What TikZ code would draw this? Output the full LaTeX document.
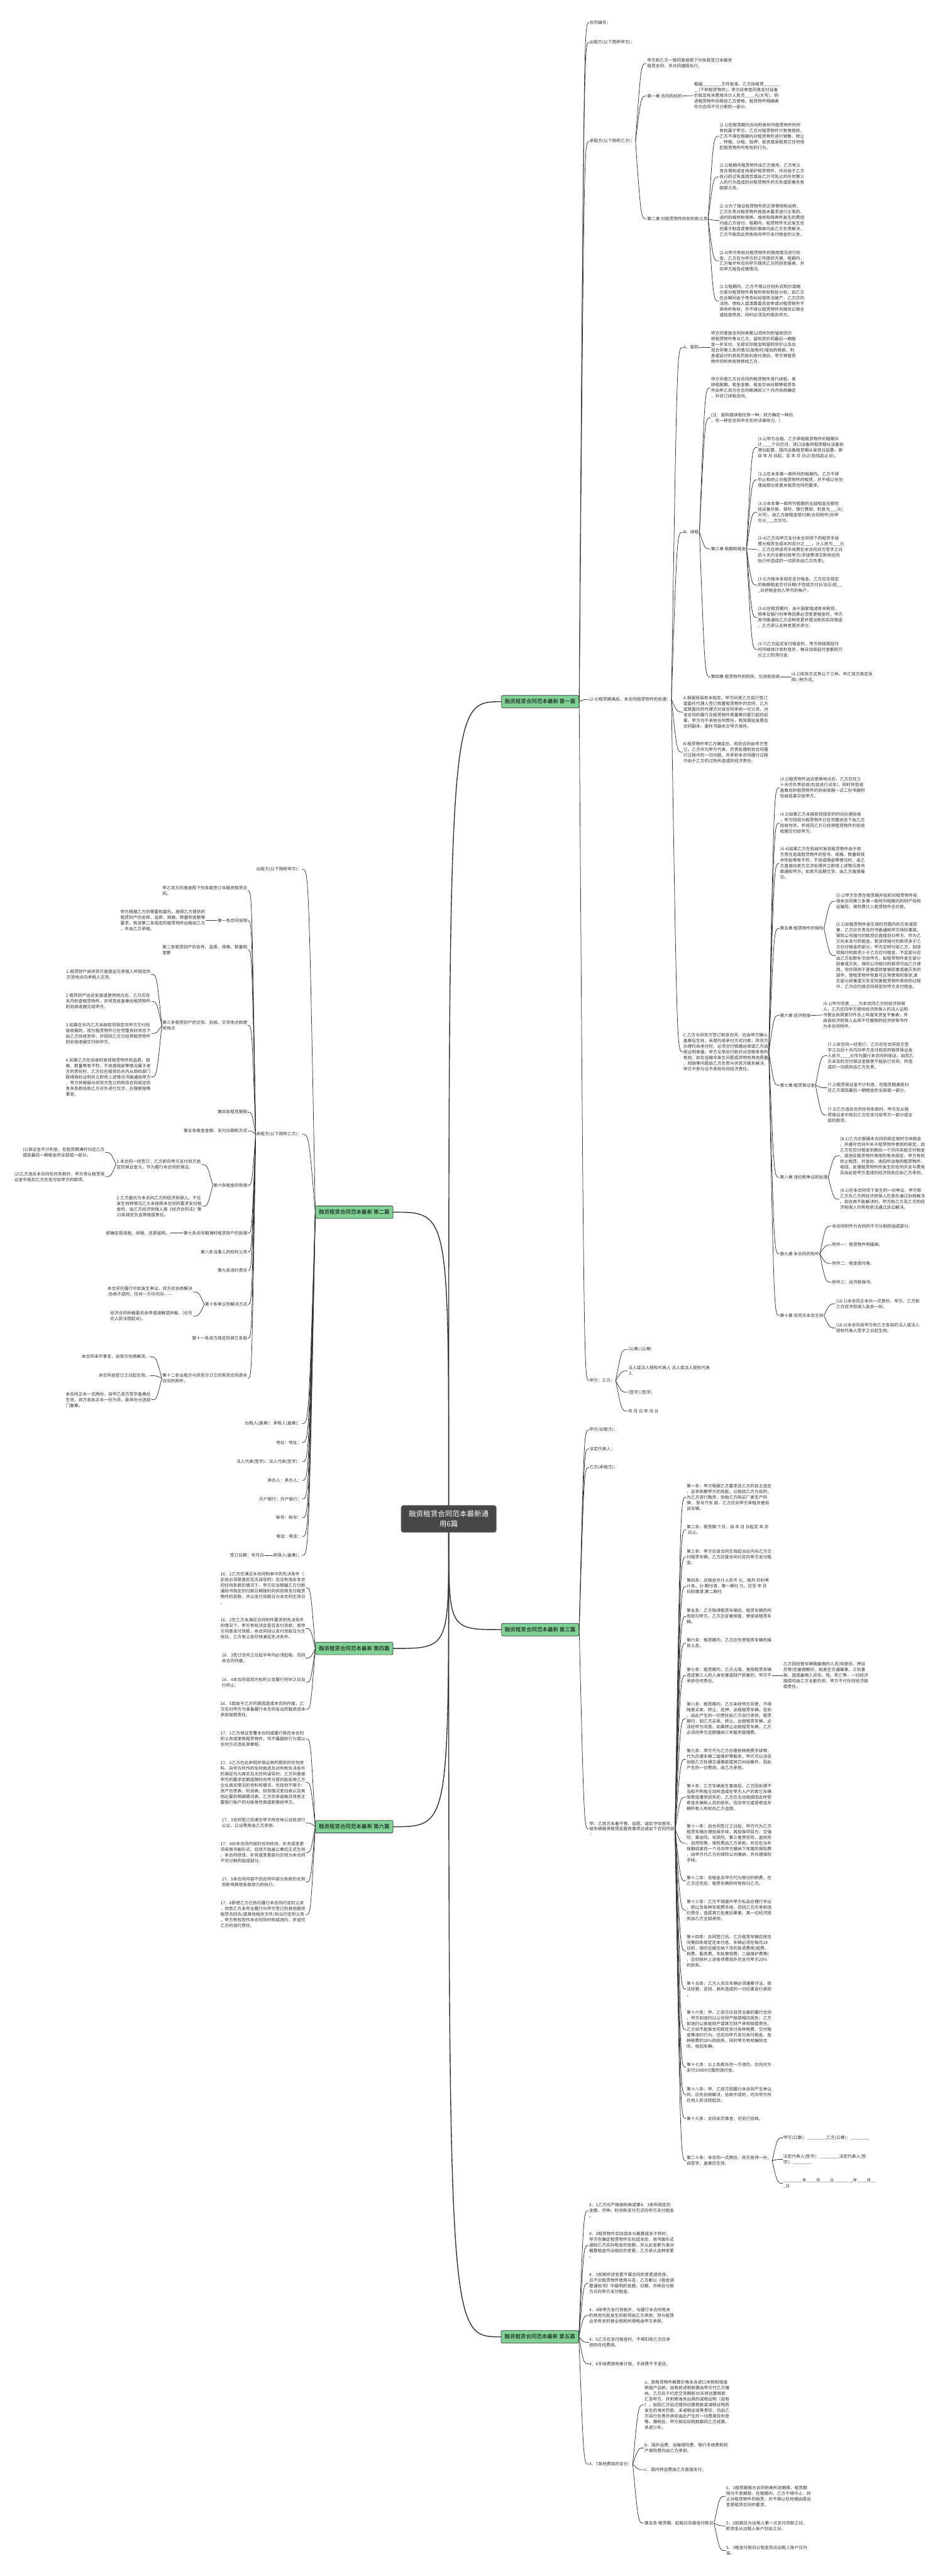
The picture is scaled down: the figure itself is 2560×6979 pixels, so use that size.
\documentclass[tikz,border=0pt]{standalone}
\usepackage{fontspec}
\setmainfont{Noto Sans CJK SC}
\usetikzlibrary{calc}
\definecolor{tx}{HTML}{2F2F2F}
\definecolor{ln}{HTML}{333333}
\definecolor{gfill}{HTML}{80D195}
\definecolor{rfill}{HTML}{474747}
\newcommand\ufour{\_\_\_\_}
\newcommand\ueight{\_\_\_\_\_\_\_\_}
\newcommand\rlink[2]{\draw[cn] (#1.east) .. controls ($(#2.west-|#1.east)!0.5!(#2.west)$) .. (#2.west);}
\newcommand\llink[2]{\draw[cn] (#1.west) .. controls ($(#2.east-|#1.west)!0.5!(#2.east)$) .. (#2.east);}
\begin{document}
\begin{tikzpicture}[x=1pt,y=-1pt,
  tx/.style={font=\fontsize{11.5}{15.3}\selectfont, text=tx, align=left, inner sep=1.5pt},
  R/.style={tx,anchor=west}, L/.style={tx,anchor=east},
  cn/.style={draw=ln, line width=1.3pt, line cap=round},
  rc/.style={draw=ln, line width=2.4pt, line cap=round},
  lvl/.style={draw=ln, line width=1.2pt, fill=gfill, rounded corners=4pt, minimum width=210pt, minimum height=34pt, inner sep=0pt, font=\fontsize{14.5}{17}\selectfont, text=black}]
\fill[white] (0,0) rectangle (2560,6979);
\useasboundingbox (0,0) rectangle (2560,6979);
% root and level 1
\node[draw=rfill!70!white, fill=rfill, rounded corners=6pt, text=white, font=\fontsize{19.7}{26.4}\selectfont, align=center, minimum width=258pt, minimum height=73pt, inner sep=0pt, line width=1.2pt] (root) at (1216,4115) {融资租赁合同范本最新通\\用6篇};
\node[lvl] (b1) at (1464,1901) {融资租赁合同范本最新 第一篇};
\node[lvl] (b2) at (960,3284) {融资租赁合同范本最新 第二篇};
\node[lvl] (b3) at (1464,4415) {融资租赁合同范本最新 第三篇};
\node[lvl] (b4) at (960,4466) {融资租赁合同范本最新 第四篇};
\node[lvl] (b6) at (960,4949) {融资租赁合同范本最新 第六篇};
\node[lvl] (b5) at (1463,6331) {融资租赁合同范本最新 第五篇};
\draw[rc] (root.north) .. controls (root.north |- b1.west) .. (b1.west);
\draw[rc] (root.north) .. controls (root.north |- b2.east) .. (b2.east);
\draw[rc] (root.south) .. controls (root.south |- b3.west) .. (b3.west);
\draw[rc] (root.south) .. controls (root.south |- b4.east) .. (b4.east);
\draw[rc] (root.south) .. controls (root.south |- b6.east) .. (b6.east);
\draw[rc] (root.south) .. controls (root.south |- b5.west) .. (b5.west);

% ===== 第一篇 =====
\node[R] (a1) at (1596,62) {合同编号：};
\node[R] (a2) at (1596,115) {出租方(以下简称甲方)：};
\node[R] (a3) at (1596,383) {承租方(以下简称乙方)：};
\node[R] (a31) at (1752,172) {甲方和乙方一致同意按照下列条款签订本融资\\租赁合同，并共同遵照执行。};
\node[R] (a32) at (1752,260) {第一章 合同的标的};
\node[R] (a321) at (1879,259) {根据\ueight 文件批准，乙方拟租赁\_\_\_\_\_\_\_\\\_\_(下称租赁物件)，甲方经审查同意支付设备\\价款及有关费用共计人民币\ufour 元(大写)，购\\进租赁物件后租给乙方使用，租赁物件明细表\\作为合同不可分割的一部分。};
\node[R] (a33) at (1752,593) {第二章 对租赁物件的权利和义务};
\node[R] (a331) at (1948,369) {(2-1)在租赁期内合同附表所列租赁物件的所\\有权属于甲方，乙方对租赁物件只有使用权。\\乙方不得在租期内对租赁物件进行销售、转让\\、转租、分租、抵押、投资或采取其它任何侵\\犯租赁物件所有权的行为。};
\node[R] (a332) at (1948,479) {(2-2)租期内租赁物件由乙方使用，乙方有义\\务合理和适宜地保护租赁物件，并对由于乙方\\自己的过失或疏忽或由乙方可防止的任何第三\\人的行为造成的对租赁物件的灭失或损害负有\\赔偿义务。};
\node[R] (a333) at (1948,597) {(2-3)为了保证租赁物件的正常使用和运转，\\乙方负责对租赁物件按技术要求进行正常的、\\适时的维修和保养。维修和保养所发生的费用\\均由乙方自付。租期内，租赁物件无论发生任\\何属于制造或使用的事故均由乙方负责解决，\\乙方不能因此而免除向甲方支付租金的义务。};
\node[R] (a334) at (1948,707) {(2-4)甲方有权对租赁物件的使用情况进行检\\查，乙方应为甲方的工作提供方便。租期内，\\乙方每半年应向甲方提供乙方的财务报表，并\\向甲方报告经营情况。};
\node[R] (a335) at (1948,816) {(2-5)租期内，乙方不得以任何形式明示或暗\\示其对租赁物件具有所有权和处分权，如乙方\\在此期间由于债务纠纷或依法破产，乙方应向\\法院、债权人或清算委员会申请对租赁物件不\\具有所有权，亦不得以租赁物件充做诉讼保全\\或抵偿债务，同时必须及时报告甲方。};
\node[R] (a4) at (1596,1895) {(2-6)租赁期满后，本合同租赁物件的处理：};
\node[R] (a41) at (1850,941) {A、留购};
\node[R] (a411) at (1925,941) {甲方同意按合同附表第12项所列的留购货价\\将租赁物件售与乙方。留购货价同最后一期租\\金一并支付。全部实际租金和留购货价以及出\\现合同第三条的情况(如有时)增加的税款、利\\息或延付利息和罚款利息付清后，甲方将租赁\\物件的所有权转移给乙方。};
\node[R] (a42) at (1850,1442) {B、续租};
\node[R] (a421) at (1925,1051) {甲方同意乙方对合同的租赁物件进行续租，其\\续租租期、租金金额、租金交纳日期等租赁条\\件由甲乙双方在合同期满前三个月内协商确定\\，并另订续租合同。};
\node[R] (a422) at (1925,1132) {(注：留购或续租任择一种，双方确定一种后\\，另一种在合同中无任何法律效力。)};
\node[R] (a423) at (1925,1487) {第三章 租期和租金};
\node[R] (a4231) at (2052,1212) {(3-1)甲方出租、乙方承租租赁物件的租期共\\计\ufour 个日历月，进口设备的租赁期从设备到\\港日起算，国内设备租赁期从发货日起算，即\\自 年 月 日起，至 年 月 日止(包括起止日)。};
\node[R] (a4232) at (2052,1300) {(3-2)在本条第一款所列的租期内，乙方不得\\中止和终止对租赁物件的租赁，并不得以任何\\理由提出变更本租赁合同的要求。};
\node[R] (a4233) at (2052,1388) {(3-3)本条第一款所列租期的全部租金总额包\\括设备价款、保险、银行费用、利息为\_\_\_元(\\大写)，由乙方按租金偿付表(合同附件)向甲\\方分\_\_\_次交付。};
\node[R] (a4234) at (2052,1489) {(3-4)乙方向甲方支付本合同项下的租赁手续\\费为租赁总成本的百分之\_\_\_，计人民币\_\_\_元\\，乙方应将该项手续费在本合同双方签字之日\\后十天内全额付给甲方(手续费滞交影响合同\\执行所造成的一切损失由乙方负责)。};
\node[R] (a4235) at (2052,1585) {(3-5)为按本条规定支付租金，乙方应在规定\\的每期租金交付日期(不包括交付日当日)前\_\_\\\_日将租金划入甲方的帐户。};
\node[R] (a4236) at (2052,1673) {(3-6)在租赁期内，由于国家增减有关税项、\\税率及银行利率等因素必须变更租金时，甲方\\用书面通知乙方这种变更并提出新的实际租金\\，乙方承认这种变更并承付。};
\node[R] (a4237) at (2052,1760) {(3-7)乙方延迟支付租金时，甲方除按照延付\\时间继续计收利息外，每日加收延付金额的万\\分之三的滞付金。};
\node[R] (a424) at (1925,1834) {第四章 租赁物件的购货、交货和验收};
\node[R] (a4241) at (2143,1834) {(4-1)购货方式有以下三种，甲乙双方商定采\\用( )种方式。};
\node[R] (a43) at (1850,1929) {A.根据贸易有关规定，甲方同意乙方自行签订\\或委托代理人签订购置租赁物件的合同，乙方\\或其委托的代理方对该合同承担一切义务。对\\该合同的履行及租赁物件质量等问题引起的后\\果，甲方均不承担任何责任，购货原始发票及\\合同副本、委托书副本交甲方保存。};
\node[R] (a44) at (1850,2038) {B.租赁物件甲乙方确定后，购货合同由甲方签\\订。乙方作为甲方代表，负责处理购货合同履\\行过程中的一切问题，并承担本合同履行过程\\中由于乙方的过失所造成的经济责任。};
\node[R] (a45) at (1850,2850) {C.乙方与供货方签订购货合同，应由甲方确认\\盖章后生效，采用托收承付方式付款，供货方\\办理托收承付时，必须交付铁路运单或乙方自\\提证明单据。甲方见单后付款并对货物享有所\\有权。如在运输中发生问题或货物有其他质量\\、短缺等问题由乙方负责与供货方联系解决，\\甲方不参与也不承担任何经济责任。};
\node[R] (a451) at (2112,2134) {(4-2)租赁物件运达使用地点后，乙方应在三\\十天内负责验收(包括进行试车)，同时将签收\\盖章后的租赁物件的验收收据一式二份书面附\\验收结果交给甲方。};
\node[R] (a452) at (2112,2230) {(4-3)如果乙方未按前项规定的时间办理验收\\，甲方则视为租赁物件已在完整状态下由乙方\\验收完毕，并视同乙方已经将租赁物件的验收\\收据交付给甲方。};
\node[R] (a453) at (2112,2339) {(4-4)如果乙方在验收时发现租赁物件由于卖\\方责任造成租赁物件的型号、规格、数量和技\\术性能等有不符、不良或瑕疵等情况时，由乙\\方直接向卖方交涉处理并立即将上述情况用书\\面通知甲方。如卖方延期交货，由乙方直接催\\交。};
\node[R] (a454) at (2112,2515) {第五章 租赁物件的保险};
\node[R] (a4541) at (2264,2442) {(5-1)甲方负责在租赁期开始前对租赁物件投\\保本合同第三条第一款所列租期内的财产险和\\运输险，保险费计入租赁物件总价款。};
\node[R] (a4542) at (2264,2589) {(5-2)如租赁物件发生保险范围内的灭失或损\\害，乙方应负责及时书面通知甲方保险事故。\\保险公司赔付的款项应直接划归甲方，作为乙\\方尚未支付的租金。若该项赔付的款项多于乙\\方应付租金的部分，甲方应转付给乙方，如该\\项赔付的款项少于乙方应付租金，不足部分应\\由乙方如数补交给甲方。如租赁物件发生部分\\损害或灭失，保险公司赔付的款项可由乙方使\\用，但仅限用于更换或修复被损害或被灭失的\\部件，使租赁物件恢复可正常使用的原状;发\\生部分损害或灭失至恢复租赁物件原状的过程\\中，乙方应仍按合同规定向甲方支付租金。};
\node[R] (a455) at (2112,2751) {第六章 经济担保};
\node[R] (a4551) at (2229,2750) {(6-1)甲方同意\ufour 为本合同乙方的经济担保\\人。乙方应向甲方提供经济担保人的法人证明\\书营业执照复印件及上年度末资金平衡表，并\\由该经济担保人出具不可撤销的经济担保书作\\为本合同附件。};
\node[R] (a456) at (2112,2940) {第七章 租赁保证金};
\node[R] (a4561) at (2241,2860) {(7-1)本合同一经签订，乙方应在合同双方签\\字之日后十天内向甲方支付规定的租赁保证金\\人民币\ufour 元作为履行本合同的保证。如因乙\\方未及时交付保证金致使不能执行合同，所造\\成的一切损失由乙方负责。};
\node[R] (a4562) at (2241,2947) {(7-2)租赁保证金不计利息，在租赁期满是归\\还乙方或抵最后一期租金的全部或一部分。};
\node[R] (a4563) at (2241,3021) {(7-3)乙方违反合同任何条款时，甲方应从租\\赁保证金中抵扣乙方应支付给甲方一部分或全\\部的款项。};
\node[R] (a457) at (2112,3190) {第八章 违约和争议的处理};
\node[R] (a4571) at (2275,3131) {(8-1)乙方应根据本合同的规定按时交纳租金\\，并遵守合同中关于租赁物件使用的规定。如\\乙方在应付租金到期后一个月内未能交付租金\\，或违反租赁物件使用的有关规定，甲方有权\\终止租赁，并查封、收回所出租的租赁物件。\\收回、处理租赁物件所发生的任何开支与费用\\及由此给甲方造成的经济损失应由乙方承担。};
\node[R] (a4572) at (2275,3249) {(8-2)在本合同项下发生的一切争议，甲方和\\乙方及乙方的经济担保人应首先通过协商解决\\。如协商不能解决时，甲方和乙方及乙方的经\\济担保人均有权依法通过诉讼解决。};
\node[R] (a458) at (2112,3397) {第九章 本合同的附件};
\node[R] (a4581) at (2253,3322) {本合同附件为合同的不可分割的组成部分。};
\node[R] (a4582) at (2253,3373) {附件一：租赁物件明细表;};
\node[R] (a4583) at (2253,3423) {附件二：租金偿付表;};
\node[R] (a4584) at (2253,3474) {附件三：经济担保书。};
\node[R] (a459) at (2112,3564) {第十章 合同文本及生效};
\node[R] (a4591) at (2264,3532) {(10-1)本合同正本共一式叁份，甲方、乙方和\\乙方经济担保人各执一份。};
\node[R] (a4592) at (2264,3598) {(10-2)本合同自甲方和乙方各自的法人或法人\\授权代表人签字之日起生效。};
\node[R] (a5) at (1596,3740) {甲方：乙方：};
\node[R] (a51) at (1701,3656) {(公章) (公章)};
\node[R] (a52) at (1701,3714) {法人或法人授权代表人 法人或法人授权代表\\人};
\node[R] (a53) at (1701,3772) {(签字) (签字)};
\node[R] (a54) at (1701,3823) {年 月 日 年 月 日};

\foreach \c in {a1,a2,a3,a4,a5}{\rlink{b1}{\c}}
\foreach \c in {a31,a32,a33}{\rlink{a3}{\c}}
\rlink{a32}{a321}
\foreach \c in {a331,a332,a333,a334,a335}{\rlink{a33}{\c}}
\foreach \c in {a41,a42,a43,a44,a45}{\rlink{a4}{\c}}
\rlink{a41}{a411}
\foreach \c in {a421,a422,a423,a424}{\rlink{a42}{\c}}
\foreach \c in {a4231,a4232,a4233,a4234,a4235,a4236,a4237}{\rlink{a423}{\c}}
\rlink{a424}{a4241}
\foreach \c in {a451,a452,a453,a454,a455,a456,a457,a458,a459}{\rlink{a45}{\c}}
\foreach \c in {a4541,a4542}{\rlink{a454}{\c}}
\rlink{a455}{a4551}
\foreach \c in {a4561,a4562,a4563}{\rlink{a456}{\c}}
\foreach \c in {a4571,a4572}{\rlink{a457}{\c}}
\foreach \c in {a4581,a4582,a4583,a4584}{\rlink{a458}{\c}}
\foreach \c in {a4591,a4592}{\rlink{a459}{\c}}
\foreach \c in {a51,a52,a53,a54}{\rlink{a5}{\c}}

% ===== 第三篇 =====
\node[R] (c1) at (1596,3874) {甲方(出租方)：};
\node[R] (c2) at (1596,3925) {法定代表人：};
\node[R] (c3) at (1596,3976) {乙方(承租方)：};
\node[R] (c4) at (1596,4955) {甲、乙双方本着平等、自愿、诚实守信原则，\\就车辆融资租赁及服务事项达成如下合同内容\\：};
\node[R] (c41) at (1859,4056) {第一条：甲方根据乙方要求及乙方的自主选定\\，且非依赖甲方的技能，以租给乙方为目的，\\为乙方进行融资，协助乙方购买厂家生产的\\牌， 型号汽车 部，乙方应向甲方承租并使用\\该车辆。};
\node[R] (c42) at (1859,4144) {第二条：租赁期 个月，自 年 月 日起至 年 月\\\hspace*{3pt}日止。};
\node[R] (c43) at (1859,4218) {第三条：甲方应自合同生效起当日内向乙方交\\付租赁车辆，乙方应按合同约定向甲方支付租\\金。};
\node[R] (c44) at (1859,4298) {第四条：总租金共计人民币 元，按月 的利率\\计息。分 期付清，第一期付 元，应至 年 月\\日前缴清;第二期付};
\node[R] (c45) at (1859,4379) {第五条：乙方取得租赁车辆后，租赁车辆的所\\有权归甲方，乙方应妥善保管、使用该租赁车\\辆。};
\node[R] (c46) at (1859,4451) {第六条：租赁期内，乙方应负责租赁车辆的维\\修义务。};
\node[R] (c47) at (1859,4539) {第七条：租赁期内，乙方占用、使用租赁车辆\\造成第三人的人身伤害或财产损害的，甲方不\\承担任何责任。};
\node[R] (c471) at (2121,4539) {乙方因经营车辆需雇佣的人员(驾驶员、押运\\员等)在雇佣期间，如发生交通肇事，工伤事\\故，造成雇佣人员伤、残、死亡等，一切经济\\赔偿均由乙方全额负担，甲方不付任何经济赔\\偿责任。};
\node[R] (c48) at (1859,4656) {第八条：租赁期内，乙方未经甲方同意，不得\\随意买卖、转让、抵押、出租租赁车辆，否则\\，由此产生的一切责任由乙方自行承担。租赁\\期内，如乙方买卖、转让、出租租赁车辆，必\\须经甲方同意，如果转让出租租赁车辆，乙方\\必须向甲方足额缴纳三年服务管理费。};
\node[R] (c49) at (1859,4766) {第九条：甲方代为乙方办理各种税费手续等，\\代为办理车辆二级维护等服务，甲方可以派员\\协助乙方处理交通事故或其它纠纷案件，因此\\产生的一切费用，由乙方承担。};
\node[R] (c410) at (1859,4869) {第十条：乙方车辆发生事故后，乙方因处理不\\当和不积极主动所造成在甲方入户的其它车辆\\受牵连遭受损失的，乙方应主动赔偿因此所受\\牵连车辆和人员的损失，否则甲方或受牵连车\\辆所有人有权向乙方追偿。};
\node[R] (c411) at (1859,4994) {第十一条：自合同签订之日起，甲方代为乙方\\租赁车辆办理投保手续，其投保项目为：交强\\险、乘坐险、车损险、第三者责任险、盗抢险\\、自然险等，保险费由乙方承担，并应在当年\\保期结束前一个月向甲方缴纳下年度的保险费\\，由甲方代乙方向保险公司缴纳，并办理保险\\手续。};
\node[R] (c412) at (1859,5096) {第十二条：总租金及甲方代为垫付的税费，在\\乙方还完后，租赁车辆的所有权归乙方。};
\node[R] (c413) at (1859,5175) {第十三条：乙方不得避开甲方私自办理行车证\\、照以及各种车规费手续，否则乙方应承担违\\约责任，造成其它危害后果者，其一切经济损\\失由乙方全部承担。};
\node[R] (c414) at (1859,5286) {第十四条：合同签订后，乙方租赁车辆应按合\\同第四条规定还本付息，车辆必须在每月28\\日前，按时足额交纳下月的各项费用(规费、\\税费、服务费、车船使用费、二级维护费等)\\，否则除补上述各项费用外另支付甲方20\%\\的损失。};
\node[R] (c415) at (1859,5389) {第十五条：乙方人员及车辆必须遵章守法，依\\法经营，否则，其所造成的一切后果自行承担\\。};
\node[R] (c416) at (1859,5499) {第十六条：甲、乙双方应自觉全面的履行合同\\，甲方如违约以公司财产赔偿相应损失；乙方\\如违约以家庭财产或其它财产承担赔偿责任。\\乙方如不能按合同规定支付各种税费、交付租\\金等违约行为，还应向甲方支付未付租金、各\\种税费的20\%的损失，同时甲方有权解除合\\同，收回车辆。};
\node[R] (c417) at (1859,5601) {第十七条：以上条款任何一方违约，应向对方\\支付10000元整的违约金。};
\node[R] (c418) at (1859,5675) {第十八条：甲、乙双方因履行本合同产生争议\\的，应先协商解决，协商不成的，可向甲方所\\在地人民法院起诉。};
\node[R] (c419) at (1859,5740) {第十九条：合同未尽事宜，可另行协商。};
\node[R] (c420) at (1859,5854) {第二十条：本合同一式两份，双方各持一份，\\自签字、盖章后生效。};
\node[R] (c4201) at (2121,5792) {甲方(公章)：\ueight 乙方(公章)：\ueight};
\node[R] (c4202) at (2121,5850) {法定代表人(签字)：\ueight 法定代表人(签\\字)：\ueight};
\node[R] (c4203) at (2121,5915) {\ueight 年\ufour 月\ufour 日\ueight 年\ufour 月\_\_\\\_日};

\foreach \c in {c1,c2,c3,c4}{\rlink{b3}{\c}}
\foreach \c in {c41,c42,c43,c44,c45,c46,c47,c48,c49,c410,c411,c412,c413,c414,c415,c416,c417,c418,c419,c420}{\rlink{c4}{\c}}
\rlink{c47}{c471}
\foreach \c in {c4201,c4202,c4203}{\rlink{c420}{\c}}

% ===== 第五篇 =====
\node[R] (e1) at (1595,5989) {4．1乙方应严格按附表或第4．3条所规定的\\金额、币种、时间和支付方式向甲方支付租金\\。};
\node[R] (e2) at (1595,6083) {4．2租赁物件实际成本与概算成本不符时，\\甲方在确定租赁物件实际成本后，用书面形式\\通知乙方实际租金的金额，并以此金额为准对\\概算租金作出相应的变更，乙方承认这种变更\\。};
\node[R] (e3) at (1595,6185) {4．3前款所述变更不属合同的变更或修改，\\且不论租赁物件使用与否，乙方都以《租金调\\整通知书》中载明的金额、日期、币种及付款\\方式向甲方支付租金。};
\node[R] (e4) at (1595,6273) {4．4除甲方支付货款外，与履行本合同有关\\的其他可能发生的款项由乙方承担，但与租赁\\业务有关的营业税和所得税由甲方承担。};
\node[R] (e5) at (1595,6346) {4．5乙方在支付租金时，不得扣除乙方应承\\担的任何费用。};
\node[R] (e6) at (1595,6404) {4．6手续费按附表计收，手续费不予退还。};
\node[R] (e7) at (1595,6676) {4．7其他费用的支付：};
\node[R] (e71) at (1745,6515) {a．若租赁物件概算价格未含进口关税和增值\\税或产品税，如有前述税款需由甲方代乙方缴\\纳，乙方应于约定交货期前30天将估算税款\\汇至甲方，并附寄海关出具的减税证明（如有\\），如因乙方延迟提供估算税款或减税证明而\\发生的海关罚款、未减税征收等责任，均由乙\\方自行负责并承担由此产生的一切费用及利息\\等。缴税后，甲方按实际税款额同乙方结算，\\多退少补。};
\node[R] (e72) at (1745,6632) {b．国外运费、运输保险费、银行手续费和财\\产保险费均由乙方承担。};
\node[R] (e73) at (1745,6691) {c．国内转运费由乙方直接支付。};
\node[R] (e74) at (1745,6836) {第五条 租赁期、起租日及租金付款日};
\node[R] (e741) at (1966,6763) {5．1租赁期限为合同附表所述期限，租赁期\\限为不变期限，在租期内，乙方不得中止、终\\止对租赁物件的租赁，并不得以任何理由提出\\变更租赁合同的要求。};
\node[R] (e742) at (1966,6843) {5．2起租日为出租人第一次支付贷款之日，\\即资金从出租人账户划出之日。};
\node[R] (e743) at (1966,6910) {5．3租金付款日以租金到达出租人账户日为\\准。};
\foreach \c in {e1,e2,e3,e4,e5,e6,e7}{\rlink{b5}{\c}}
\foreach \c in {e71,e72,e73,e74}{\rlink{e7}{\c}}
\foreach \c in {e741,e742,e743}{\rlink{e74}{\c}}

% ===== 第二篇 =====
\node[L] (d1) at (819,2355) {出租方(以下简称甲方)：};
\node[L] (d2) at (819,3073) {承租方(以下简称乙方)：};
\node[L] (d21) at (672,2413) {甲乙双方同意按照下列条款签订本融资租赁合\\同。};
\node[L] (d22) at (672,2494) {第一条合同说明};
\node[L] (d221) at (558,2494) {甲方根据乙方的需要和委托，按照乙方提供的\\租赁财产的名称、品质、规格、数量和金额等\\要求，购进第二条规定的租赁物件出租给乙方\\，并由乙方承租。};
\node[L] (d23) at (672,2574) {第二条租赁财产的名称、品质、规格、数量和\\金额};
\node[L] (d24) at (672,2778) {第三条租赁财产的交货、验收、交货地点和使\\用地点};
\node[L] (d241) at (410,2640) {1.租赁财产由供货方直接运交承租人所指定的\\交货地点向承租人交货。};
\node[L] (d242) at (410,2713) {2.租赁财产运达安装或使用地点后，乙方应在\\天内检查租赁物件，并将签收盖章后租赁物件\\的验收收据交给甲方。};
\node[L] (d243) at (410,2800) {3.如果在天内乙方未按前项规定向甲方交付验\\收收据的，视为租赁物件已在完整良好状态下\\由乙方验收完毕，并视同乙方已经将租赁物件\\的验收收据交付给甲方。};
\node[L] (d244) at (410,2918) {4.如果乙方在验收时发现租赁物件的品质、规\\格、数量等有不符，不良或瑕疵等情况属于卖\\方的责任时，乙方应在接货后天内从商检部门\\取得商检证明并立即将上述情况书面通知甲方\\，甲方将根据与供货方签订的购货合同规定的\\有关条款协助乙方对外进行交涉，办理索赔等\\事宜。};
\node[L] (d25) at (672,3013) {第四条租赁期限};
\node[L] (d26) at (672,3064) {第五条租金金额、支付日期和方式};
\node[L] (d27) at (672,3211) {第六条租金的担保};
\node[L] (d271) at (546,3155) {1.本合同一经签订，乙方即向甲方支付双方商\\定的保证金元，作为履行本合同的保证。};
\node[L] (d2711) at (285,3122) {(1)保证金不计利息，在租赁期满时归还乙方\\或抵最后一期租金的全部或一部分。};
\node[L] (d2712) at (285,3188) {(2)乙方违反本合同任何条款时，甲方将从租赁保\\证金中抵扣乙方应支付给甲方的款项。};
\node[L] (d272) at (548,3268) {2.乙方委托为本合同乙方的经济担保人。不论\\发生何种情况乙方未按照本合同的要求支付租\\金时，由乙方经济担保人按《经济合同法》第\\15条规定负连带赔偿责任。};
\node[L] (d28) at (672,3341) {第七条合同期满时租赁财产的处理};
\node[L] (d281) at (462,3341) {即确定是退租、续租，还是留购。};
\node[L] (d29) at (672,3392) {第八条当事人的权利义务};
\node[L] (d210) at (672,3442) {第九条违约责任};
\node[L] (d211) at (672,3534) {第十条争议的解决方式};
\node[L] (d2111) at (523,3500) {本合同在履行中如发生争议，双方应协商解决\\;协商不成时，任何一方均可向-{}-{}-{}-{}-{}-};
\node[L] (d2112) at (523,3566) {经济合同仲裁委员会申请调解或仲裁，(也可\\向人民法院起诉)。};
\node[L] (d212) at (672,3625) {第十一条双方商定的其它条款};
\node[L] (d213) at (672,3734) {第十二条出租方与供货方订立的购货合同是本\\合同的附件。};
\node[L] (d2131) at (407,3676) {本合同未尽事宜，由双方协商解决。};
\node[L] (d2132) at (407,3727) {本合同自签订之日起生效。};
\node[L] (d2133) at (410,3792) {本合同正本一式两份，自甲乙双方签字盖章后\\生效，双方各执正本一份为凭，副本份分送部\\门备案。};
\node[L] (d3) at (819,3857) {出租人(盖章)：承租人(盖章)：};
\node[L] (d4) at (819,3908) {地址：地址：};
\node[L] (d5) at (819,3960) {法人代表(签字)：法人代表(签字)：};
\node[L] (d6) at (819,4011) {承办人：承办人：};
\node[L] (d7) at (819,4061) {开户银行：开户银行：};
\node[L] (d8) at (819,4112) {帐号：帐号：};
\node[L] (d9) at (819,4163) {电话：电话：};
\node[L] (d10) at (819,4214) {担保人(盖章)：};
\node[L] (d101) at (717,4214) {签订日期：年月日};

\foreach \c in {d1,d2,d3,d4,d5,d6,d7,d8,d9,d10}{\llink{b2}{\c}}
\foreach \c in {d21,d22,d23,d24,d25,d26,d27,d28,d29,d210,d211,d212,d213}{\llink{d2}{\c}}
\llink{d22}{d221}
\foreach \c in {d241,d242,d243,d244}{\llink{d24}{\c}}
\foreach \c in {d271,d272}{\llink{d27}{\c}}
\foreach \c in {d2711,d2712}{\llink{d271}{\c}}
\llink{d28}{d281}
\foreach \c in {d2111,d2112}{\llink{d211}{\c}}
\foreach \c in {d2131,d2132,d2133}{\llink{d213}{\c}}
\llink{d10}{d101}

% ===== 第四篇 =====
\node[L] (f1) at (829,4302) {16．1乙方在满足本合同附表中的先决条件（\\此些必须是真实及无误导的）及没有违反本合\\同任何条款的情况下，甲方应当根据乙方付款\\通知书指定的付款日期按时向供货商支付租赁\\物件的货款，并以支付货款日为本合同生效日\\。};
\node[L] (f2) at (829,4412) {16．2在乙方未满足合同附件要求的先决条件\\的情况下，甲方有权决定是否支付货款；若甲\\方同意支付货款，本合同则以支付货款日为生\\效日，乙方有义务尽快满足先决条件。};
\node[L] (f3) at (829,4492) {16．3签订合同之日起半年内必须起租，否则\\本合同作废。};
\node[L] (f4) at (829,4558) {16．4本合同自双方权利义务履行完毕之日自\\行终止。};
\node[L] (f5) at (829,4631) {16．5若由于乙方的原因造成本合同作废，乙\\方应对甲方为准备履行本合同支出的融资成本\\承担赔偿责任。};
\foreach \c in {f1,f2,f3,f4,f5}{\llink{b4}{\c}}

% ===== 第六篇 =====
\node[L] (g1) at (829,4711) {17．1乙方保证签署本合同或履行其在本合同\\的义务或使用租赁物件，均不属越权行为或以\\任何方式违反其章程。};
\node[L] (g2) at (829,4829) {17．2乙方在此声明并保证其所提供的任何资\\料、向甲方所作的任何叙述及对所有先决条件\\的满足均为真实及无任何误导的；乙方同意按\\甲方的要求定期或随时向甲方提供能反映乙方\\企业真实情况的资料和情况，包括但不限于：\\资产负债表、利润表、财务情况变动表以及其\\他必要的明细情况表。乙方亦承诺每月将其主\\要银行账户的对账单传真或邮寄给甲方。};
\node[L] (g3) at (829,4939) {17．3合同签订后递交甲方所在地公证处进行\\公证，公证费用由乙方承担。};
\node[L] (g4) at (829,5019) {17．4对本合同内容的任何修改、补充或变更\\须采用书面形式，经双方加盖公章后正式生效\\。本合同修改、补充或变更部分应视为本合同\\不可分割的组成部分。};
\node[L] (g5) at (829,5099) {17．5本合同内容不因合同中部分条款的无效\\而影响其他条款效力的执行。};
\node[L] (g6) at (829,5187) {17．6即使乙方已依约履行本合同约定的义务\\，但若乙方未完全履行与甲方签订的其他融资\\租赁合同及/或其他相关文件/协议约定的义务\\，甲方有权视作本合同同时构成违约，并追究\\乙方的违约责任。};
\foreach \c in {g1,g2,g3,g4,g5,g6}{\llink{b6}{\c}}
\end{tikzpicture}
\end{document}
